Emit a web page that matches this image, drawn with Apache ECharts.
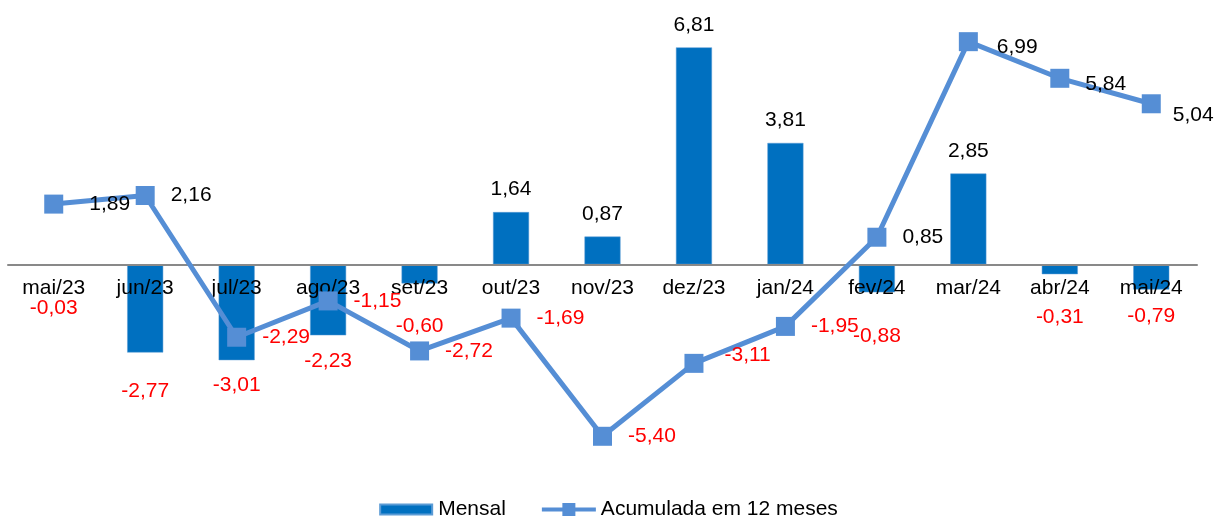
<!DOCTYPE html>
<html>
<head>
<meta charset="utf-8">
<script src="https://cdn.jsdelivr.net/npm/echarts@6/dist/echarts.min.js"></script>
<style>
html,body{margin:0;padding:0;background:#fff;}
#chart{width:1216px;height:519px;}
</style>
</head>
<body>
<div id="chart"></div>
<script>
var categories = ['mai/23','jun/23','jul/23','ago/23','set/23','out/23','nov/23','dez/23','jan/24','fev/24','mar/24','abr/24','mai/24'];
var mensal = [-0.03, -2.77, -3.01, -2.23, -0.60, 1.64, 0.87, 6.81, 3.81, -0.88, 2.85, -0.31, -0.79];
var acumulada = [1.89, 2.16, -2.29, -1.15, -2.72, -1.69, -5.40, -3.11, -1.95, 0.85, 6.99, 5.84, 5.04];

// label layout (not data)
var barLabelDistance = [32, 28, 15, 15, 32, 12, 12, 12, 12, 33, 12, 33, 16];
var lineLabelOffset = [[10,0],[0,0],[0,0],[0,0],[0,0],[0,0],[0,0],[5,-8],[0,0],[0,0],[3,6],[0,6],[-4,11]];

var FONT = 'Liberation Sans, Arial, sans-serif';
var Y_MIN = -6, Y_MAX = 8;
var GRID_TOP = 9.5, GRID_BOTTOM = 63.6, CHART_H = 519;
var gridH = CHART_H - GRID_TOP - GRID_BOTTOM;
var zeroOffset = -gridH * (0 - Y_MIN) / (Y_MAX - Y_MIN);

function fmt(v){ return v.toFixed(2).replace('.', ','); }
function col(v){ return v < 0 ? '#FF0000' : '#000000'; }

var barData = mensal.map(function(v, i){
  return {
    value: v,
    label: {
      position: v < 0 ? 'bottom' : 'top',
      distance: barLabelDistance[i],
      color: col(v)
    }
  };
});
var lineData = acumulada.map(function(v, i){
  return {
    value: v,
    label: {
      offset: lineLabelOffset[i],
      color: col(v)
    }
  };
});

var chart = echarts.init(document.getElementById('chart'));
chart.setOption({
  animation: false,
  backgroundColor: '#ffffff',
  textStyle: { fontFamily: FONT },
  grid: { left: 8, right: 19, top: GRID_TOP, bottom: GRID_BOTTOM, containLabel: false },
  legend: {
    left: 'center',
    top: 494,
    itemWidth: 54,
    itemHeight: 13,
    itemGap: 36,
    textStyle: { fontFamily: FONT, fontSize: 21, color: '#000' },
    data: [
      { name: 'Mensal', icon: 'path://M0,0L0,0M54,13L54,13M1,1.5L53,1.5L53,11.5L1,11.5Z' },
      { name: 'Acumulada em 12 meses', icon: 'path://M0,4.5L54,4.5L54,8.5L0,8.5Z M20.5,0L33.5,0L33.5,13L20.5,13Z' }
    ]
  },
  xAxis: {
    type: 'category',
    data: categories,
    position: 'bottom',
    offset: zeroOffset,
    z: 2,
    axisLine: { onZero: false, lineStyle: { color: '#898989', width: 2 } },
    axisTick: { show: false },
    axisLabel: { margin: 13, fontFamily: FONT, fontSize: 21, color: '#000', interval: 0 },
    splitLine: { show: false }
  },
  yAxis: {
    type: 'value',
    min: Y_MIN,
    max: Y_MAX,
    interval: 2,
    show: false,
    splitLine: { show: false }
  },
  series: [
    {
      name: 'Mensal',
      type: 'bar',
      z: 1,
      barWidth: 36,
      data: barData,
      itemStyle: { color: '#0070C0', borderColor: '#5b9bd5', borderWidth: 0.5 },
      label: {
        show: true,
        fontFamily: FONT,
        fontSize: 21,
        formatter: function(p){ return fmt(p.value); }
      }
    },
    {
      name: 'Acumulada em 12 meses',
      type: 'line',
      z: 3,
      data: lineData,
      symbol: 'rect',
      symbolSize: 19,
      lineStyle: { color: '#558ED5', width: 5 },
      itemStyle: { color: '#558ED5' },
      label: {
        show: true,
        position: 'right',
        distance: 16,
        fontFamily: FONT,
        fontSize: 21,
        formatter: function(p){ return fmt(p.value); }
      }
    }
  ]
});
</script>
</body>
</html>
